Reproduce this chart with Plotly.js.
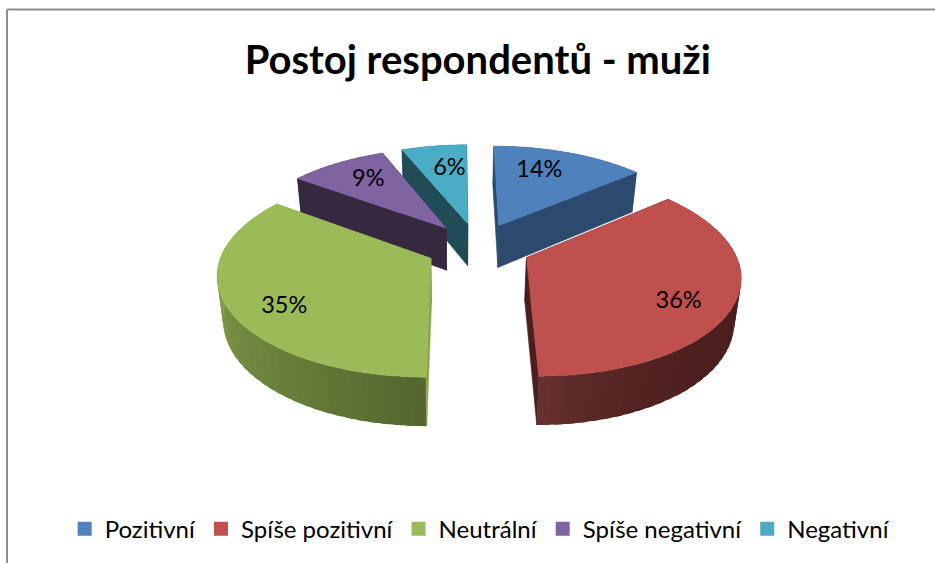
<!DOCTYPE html>
<html>
<head>
<meta charset="utf-8">
<script src="https://cdn.plot.ly/plotly-3.0.1.min.js"></script>
<style>html,body{margin:0;padding:0;background:#fff}#chart{width:935px;height:563px}</style>
</head>
<body>
<div id="chart"></div>
<script>
const categories = ["Pozitivní", "Spíše pozitivní", "Neutrální", "Spíše negativní", "Negativní"];
const values = [14, 36, 35, 9, 6];
const topColors = ["#4f81bd", "#c0504d", "#9bbb59", "#8064a2", "#4bacc6"];
const radialColors = ["#2c4a6e", "#4c1f1e", "#8aa550", "#35283f", "#1f4c55"];
const wallStart = ["#2c4a6e", "#4b1e1d", "#53662d", "#35283f", "#1f4c55"];
const wallEnd = ["#2c4a6e", "#683130", "#89a44e", "#35283f", "#1f4c55"];
const wallGamma = [1, 6, 1, 1, 1];
const wallReach = [1, 1, 0.75, 1, 1];
const drawOrder = [0, 4, 3, 2, 1];
const labelNudgeX = [-12, 5, -3, 3, 7];
const labelNudgeY = [0, 12, 14, 0, 3];

// projection of the tilted pie onto the page
const view = {cx: 478, cy: 247, vx: 458, rx: 207, rz: 97.2, persp: 0.15, explode: 0.253, shrink: 0.975, drop: 13, dropW: 30, labelR: 0.72};

function project(X, Z, low) {
  const w = 1 / (1 - view.persp * Z);
  let x = view.vx + (X * view.rx + view.cx - view.vx) * w;
  let y = view.cy + view.rz * Z * w;
  if (low) { x = view.vx + (x - view.vx) * view.shrink; y += view.drop + view.dropW * w; }
  return [x, y];
}
function hex(c) { return [1, 3, 5].map(i => parseInt(c.substr(i, 2), 16)); }
function mix(a, b, t) {
  const A = hex(a), B = hex(b);
  return "rgb(" + A.map((v, i) => Math.round(v + (B[i] - v) * t)).join(",") + ")";
}

const total = values.reduce((s, v) => s + v, 0);
const starts = [];
values.reduce((s, v, i) => { starts[i] = s; return s + v; }, 0);

function slice(i) {
  const a0 = starts[i] / total * 2 * Math.PI;
  const a1 = (starts[i] + values[i]) / total * 2 * Math.PI;
  const mid = (a0 + a1) / 2;
  const ox = view.explode * Math.sin(mid), oz = -view.explode * Math.cos(mid);
  const rim = (a, r) => [ox + (r === undefined ? 1 : r) * Math.sin(a), oz - (r === undefined ? 1 : r) * Math.cos(a)];
  return {a0, a1, mid, ox, oz, rim};
}
function poly(pts, color, extra, width) {
  return Object.assign({
    type: "scatter", mode: "lines", x: pts.map(p => p[0]), y: pts.map(p => p[1]),
    fill: "toself", fillcolor: color, line: {color: color, width: width === undefined ? 0.6 : width},
    hoverinfo: "skip", showlegend: false, xaxis: "x", yaxis: "y"
  }, extra || {});
}

const traces = [];
drawOrder.forEach(i => {
  const s = slice(i);
  const span = s.a1 - s.a0;
  const bands = Math.max(4, Math.round(span / (Math.PI / 60)));
  // outer wall, each band slightly overlapping the next so no seams appear
  for (let b = 0; b < bands; b++) {
    const t0 = s.a0 + span * b / bands;
    const t1 = s.a0 + span * Math.min(bands, b + 1.6) / bands;
    const p0 = s.rim(t0), p1 = s.rim(t1);
    const tm = Math.min(1, (b + 0.5) / bands / wallReach[i]);
    traces.push(poly([project(p0[0], p0[1]), project(p1[0], p1[1]), project(p1[0], p1[1], true), project(p0[0], p0[1], true), project(p0[0], p0[1])],
      mix(wallStart[i], wallEnd[i], Math.pow(tm, wallGamma[i])), null, 0));
  }
  // radial walls
  const e0 = s.rim(s.a0), e1 = s.rim(s.a1);
  [e0, e1].forEach(e => {
    traces.push(poly([project(s.ox, s.oz), project(e[0], e[1]), project(e[0], e[1], true), project(s.ox, s.oz, true), project(s.ox, s.oz)], radialColors[i]));
  });
  // top surface
  const pts = [project(s.ox, s.oz)];
  for (let k = 0; k <= 60; k++) {
    const p = s.rim(s.a0 + span * k / 60);
    pts.push(project(p[0], p[1]));
  }
  pts.push(project(s.ox, s.oz));
  traces.push(poly(pts, topColors[i], {
    name: categories[i],
    hovertemplate: categories[i] + ": " + values[i] + "%<extra></extra>",
    hoverinfo: undefined
  }));
});

// legend keys
categories.forEach((c, i) => {
  traces.push({
    type: "scatter", mode: "markers", x: [null], y: [null], name: c,
    marker: {symbol: "square", size: 14, color: topColors[i]},
    showlegend: true, hoverinfo: "skip"
  });
});

// data labels
const lx = [], ly = [], lt = [];
values.forEach((v, i) => {
  const s = slice(i);
  const p = s.rim(s.mid, view.labelR);
  const q = project(p[0], p[1]);
  lx.push(q[0] + labelNudgeX[i]);
  ly.push(q[1] + labelNudgeY[i]);
  lt.push(v + "%");
});
traces.push({
  type: "scatter", mode: "text", x: lx, y: ly, text: lt, textposition: "middle center",
  textfont: {family: "Lato, sans-serif", size: 23.5, color: "#000"},
  showlegend: false, hoverinfo: "skip"
});

const layout = {
  width: 935, height: 563,
  margin: {l: 0, r: 0, t: 0, b: 0},
  paper_bgcolor: "#fff", plot_bgcolor: "#fff",
  showlegend: true,
  title: {
    text: "<b>Postoj respondentů - muži</b>",
    font: {family: "Lato, sans-serif", size: 40, color: "#000"},
    x: 0.511, xanchor: "center", xref: "paper",
    y: 0.893, yanchor: "middle", yref: "paper"
  },
  xaxis: {range: [0, 935], visible: false, fixedrange: true},
  yaxis: {range: [563, 0], visible: false, fixedrange: true},
  legend: {
    orientation: "h", x: 0.513, xanchor: "center", y: 0.06, yanchor: "middle",
    font: {family: "Lato, sans-serif", size: 24, color: "#000"},
    itemwidth: 30, traceorder: "normal", bgcolor: "rgba(0,0,0,0)"
  },
  shapes: [
    {type: "line", xref: "paper", yref: "paper", x0: 0.0075, x1: 0.0075, y0: 0, y1: 0.983, line: {color: "#8c8c8c", width: 2}},
    {type: "line", xref: "paper", yref: "paper", x0: 0.0075, x1: 1, y0: 0.983, y1: 0.983, line: {color: "#8c8c8c", width: 2}}
  ]
};
Plotly.newPlot("chart", traces, layout, {displayModeBar: false, responsive: false});
</script>
</body>
</html>
